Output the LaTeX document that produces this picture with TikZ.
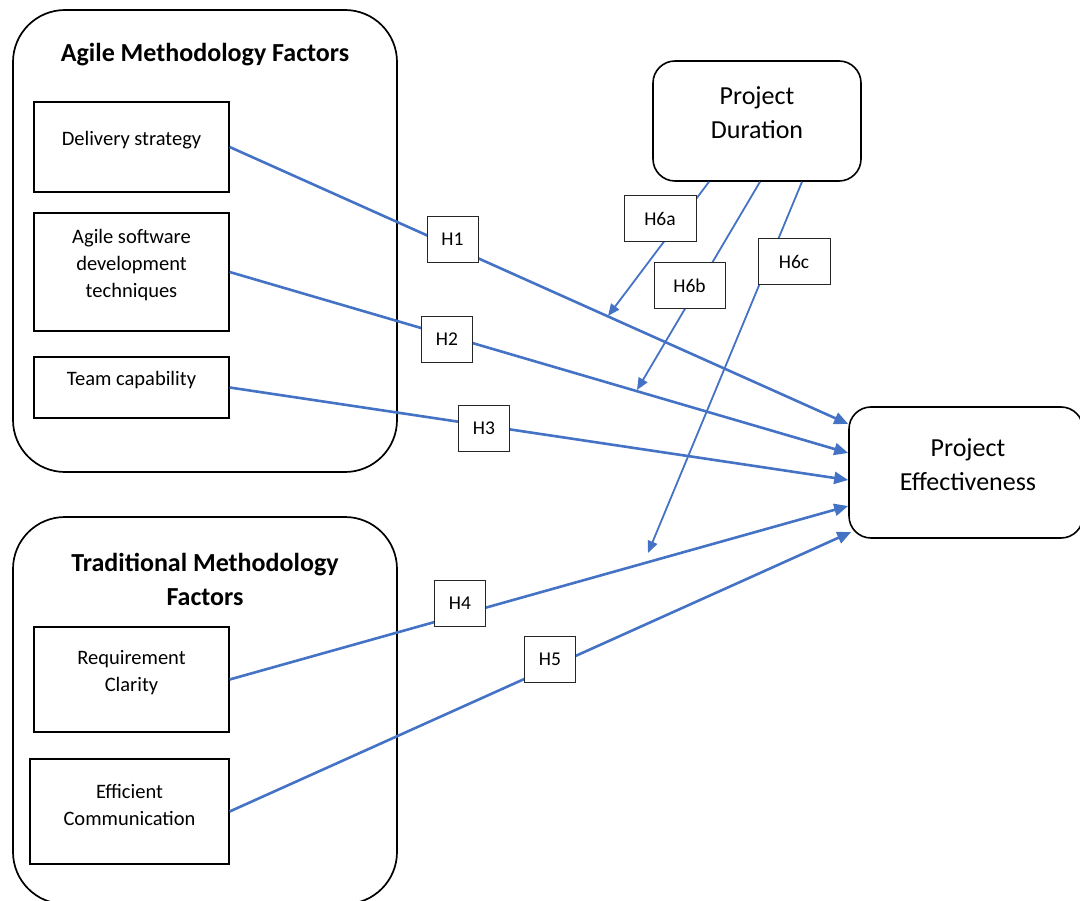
\documentclass[tikz,border=0pt]{standalone}
\usepackage{fontspec}
\setmainfont{Carlito}
\usetikzlibrary{arrows.meta}
\definecolor{linkblue}{HTML}{4472C4}
\begin{document}
\begin{tikzpicture}[x=1pt,y=-1pt,
  group/.style={draw=black, line width=1.7pt, rounded corners=52pt, inner sep=0pt},
  grouptitle/.style={font=\fontsize{26}{34}\selectfont\bfseries, align=center},
  factor/.style={draw=black, line width=1.3pt, inner sep=0pt, minimum width=195pt},
  factortext/.style={font=\fontsize{20.5}{27}\selectfont, align=center},
  outcome/.style={draw=black, line width=1.6pt, rounded corners=22pt, inner sep=0pt},
  outcometext/.style={font=\fontsize{26}{34}\selectfont, align=center},
  hyp/.style={draw=black!85, line width=0.9pt, fill=white, inner sep=0pt,
    font=\fontsize{19.5}{22}\selectfont, minimum width=51pt, minimum height=46pt},
  hypwide/.style={hyp, minimum width=72pt},
  link/.style={linkblue, line width=2.6pt, -{Triangle[length=14pt,width=12pt]}},
  modlink/.style={linkblue, line width=1.8pt, -{Triangle[length=12pt,width=10pt]}},
]
\useasboundingbox (0,0) rectangle (1080,901);

% factor groups
\node[group, minimum width=384pt, minimum height=462pt] (agile) at (205,241) {};
\node[grouptitle] (agiletitle) at (205,55) {Agile Methodology Factors};
\node[group, minimum width=384pt, minimum height=387pt] (trad) at (205,710.5) {};
\node[grouptitle] (tradtitle) at (205,579) {Traditional Methodology\\Factors};

% individual factors
\node[factor, minimum height=90pt,
  label={[factortext, yshift=7pt]center:Delivery strategy}] (ds) at (131.5,147) {};
\node[factor, minimum height=118pt,
  label={[factortext, yshift=7pt]center:Agile software\\development\\techniques}] (asd) at (131.5,272) {};
\node[factor, minimum height=61pt,
  label={[factortext, yshift=7pt]center:Team capability}] (tc) at (131.5,387.5) {};
\node[factor, minimum height=105pt,
  label={[factortext, yshift=7pt]center:Requirement\\Clarity}] (rc) at (131.5,679.5) {};
\node[factor, minimum width=199pt, minimum height=105pt,
  label={[factortext, yshift=7pt]center:Efficient\\Communication}] (ec) at (129.5,811.5) {};

% moderator and outcome
\node[outcome, minimum width=208pt, minimum height=120pt,
  label={[outcometext, yshift=8pt]center:Project\\Duration}] (pd) at (757,121) {};
\node[outcome, minimum width=234pt, minimum height=131pt,
  label={[outcometext, yshift=7.5pt, xshift=2pt]center:Project\\Effectiveness}] (pe) at (966,472.5) {};

% free ends of the moderating arrows
\coordinate (m6a) at (608,316);
\coordinate (m6b) at (637,390);
\coordinate (m6c) at (648,553);

% direct effects
\draw[link] (ds.east) -- ([yshift=48.5pt]pe.west);
\draw[link] (asd.east) -- ([yshift=19.5pt]pe.west);
\draw[link] (tc.east) -- ([yshift=-7.5pt]pe.west);
\draw[link] (rc.east) -- ([yshift=-33.5pt]pe.west);
\draw[link] (ec.east) -- ([yshift=-59.5pt,xshift=3pt]pe.west);

% moderating effects
\draw[modlink] ([xshift=-48pt]pd.south) -- (m6a);
\draw[modlink] ([xshift=3pt]pd.south) -- (m6b);
\draw[modlink] ([xshift=45pt]pd.south) -- (m6c);

% hypothesis labels
\node[hyp] (h1) at (452.5,239.5) {H1};
\node[hyp] (h2) at (447,339) {H2};
\node[hyp] (h3) at (484,428) {H3};
\node[hyp] (h4) at (460,603) {H4};
\node[hyp] (h5) at (550,659) {H5};
\node[hypwide] (h6a) at (660,218.5) {H6a};
\node[hypwide, minimum width=71pt] (h6b) at (689.5,285.5) {H6b};
\node[hypwide] (h6c) at (794,261.5) {H6c};
\end{tikzpicture}
\end{document}
